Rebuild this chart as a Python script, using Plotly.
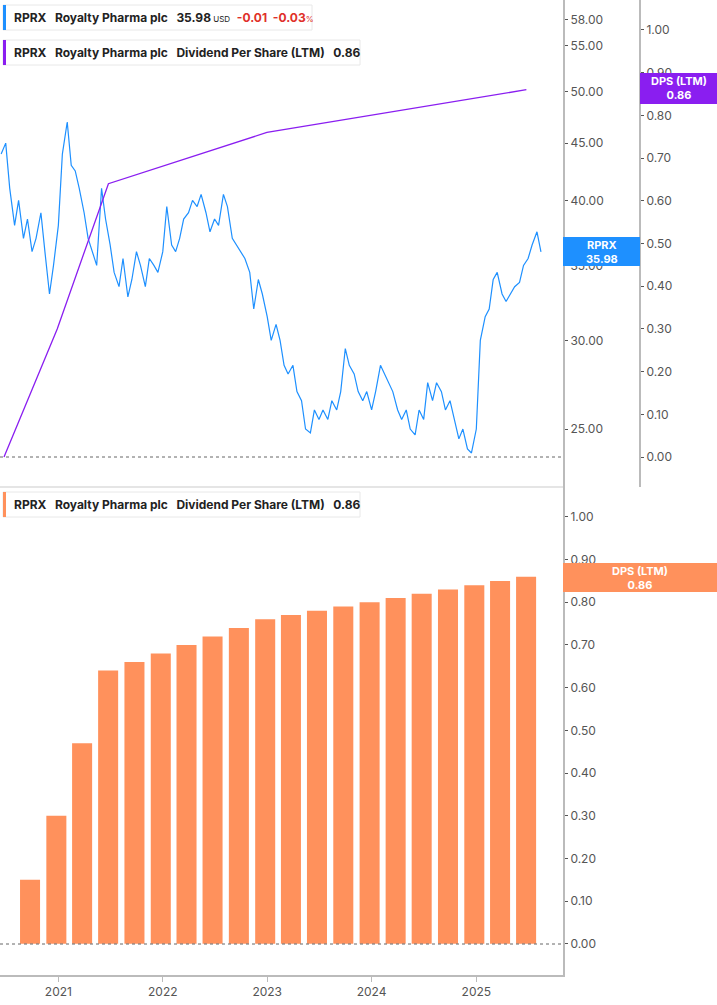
import pandas as pd
import plotly.graph_objects as go

# RPRX share price, semi-monthly readings
price_dates = pd.date_range("2020-06-15", "2025-08-15", freq="SMS")
price_values = [
    44, 45, 41, 38, 40, 37, 38.5, 36, 37, 39, 36, 33, 35,
    38, 44, 47, 43, 42.5, 41, 39, 37, 36, 35, 41, 38.5, 36.5, 34.5, 33.5, 35.5, 32.8, 34, 36, 35, 33.5, 35.5, 35, 34.5,
    36, 39.5, 36.5, 36, 37, 38.5, 39, 40, 39.5, 40.5, 39, 37.5, 38.5, 38, 40.5, 39.5, 37, 36.5, 36, 35.5, 34.5, 32, 34, 33,
    31.5, 30, 31, 30, 28.5, 28, 28.5, 27, 26.5, 25, 24.8, 26, 25.5, 26, 25.5, 26.5, 26, 27, 29.5, 28.5, 28, 27, 26.5, 27,
    26, 27, 28.5, 28, 27.5, 27, 26, 25.5, 26, 25, 24.7, 26, 25.5, 27.5, 26.5, 27.5, 27, 26, 26.5, 25.5, 24.5, 25, 24, 23.8,
    25, 30, 31.5, 32, 34, 34.5, 33, 32.5, 33, 33.5, 33.8, 35, 35.5, 36.5, 37.5, 35.98,
]

# Dividend per share (LTM), quarterly
dps_dates = pd.date_range("2020-09-30", periods=20, freq="QE") - pd.Timedelta(days=6)
dps_values = [0.15, 0.30, 0.47, 0.64, 0.66, 0.68, 0.70, 0.72, 0.74, 0.76,
              0.77, 0.78, 0.79, 0.80, 0.81, 0.82, 0.83, 0.84, 0.85, 0.86]

# DPS line as drawn in the upper panel
dps_line_dates = ["2020-06-25", "2020-12-28", "2021-06-25", "2022-12-31", "2025-06-25"]
dps_line_values = [0.0, 0.30, 0.64, 0.76, 0.86]

blue = "#1e90ff"
purple = "#8a1ef0"
orange = "#ff915c"
grey = "#555"
font = "Inter"

W, H = 717, 1005
px = lambda x: x / W
py = lambda y: 1 - y / H

fig = go.Figure()
fig.add_trace(go.Scatter(x=price_dates, y=price_values, mode="lines",
                         line=dict(color=blue, width=1.2), xaxis="x", yaxis="y"))
fig.add_trace(go.Scatter(x=dps_line_dates, y=dps_line_values, mode="lines",
                         line=dict(color=purple, width=1.3), xaxis="x", yaxis="y2"))
fig.add_trace(go.Bar(x=dps_dates, y=dps_values, marker=dict(color=orange, line=dict(width=0)),
                     width=1000 * 3600 * 24 * 70, xaxis="x2", yaxis="y3"))

xr = ["2020-06-11", "2025-10-31"]
tick = dict(ticks="outside", ticklen=3, tickcolor=grey, showgrid=False, zeroline=False,
            automargin=False,
            tickfont=dict(family=font, size=12, color=grey), tickformat=".2f")

fig.update_layout(
    width=W, height=H, margin=dict(l=0, r=0, t=0, b=0, autoexpand=False),
    plot_bgcolor="white", paper_bgcolor="white", showlegend=False,
    font=dict(family=font),
    xaxis=dict(domain=[0, px(563)], range=xr, anchor="y", showticklabels=False,
               showgrid=False, zeroline=False, automargin=False),
    xaxis2=dict(domain=[0, px(563)], range=xr, anchor="y3", showgrid=False, zeroline=False,
                automargin=False,
                showline=True, linecolor="#bbb", linewidth=2, ticks="outside", ticklen=5,
                tickcolor="#bbb", dtick="M12", tickformat="%Y",
                tickfont=dict(family=font, size=12, color=grey)),
    yaxis=dict(domain=[py(487), 1], type="log", range=[1.3462, 1.7810], side="right",
               anchor="x", showline=True, linecolor="#bbb", linewidth=2,
               tickvals=[25, 30, 35, 40, 45, 50, 55, 58], **tick),
    yaxis2=dict(domain=[py(487), 1], range=[-0.070, 1.070], overlaying="y", side="right",
                anchor="free", position=px(640), showline=True, linecolor="#bbb", linewidth=2,
                dtick=0.1, **tick),
    yaxis3=dict(domain=[py(975), py(487)], range=[-0.073, 1.070], side="right", anchor="x2",
                showline=True, linecolor="#bbb", linewidth=2, dtick=0.1, **tick),
    bargap=0.2,
)

shapes = [
    # dotted zero lines
    dict(type="line", xref="paper", yref="paper", x0=0, x1=px(563), y0=py(457), y1=py(457),
         line=dict(color="#666", width=1, dash="dot")),
    dict(type="line", xref="paper", yref="paper", x0=0, x1=px(563), y0=py(944), y1=py(944),
         line=dict(color="#666", width=1, dash="dot")),
    # panel separator
    dict(type="line", xref="paper", yref="paper", x0=0, x1=px(563), y0=py(487), y1=py(487),
         line=dict(color="#ddd", width=1.5)),
]

# legend boxes
legend_boxes = [
    (5, 30, 312, blue),
    (40, 65, 360, purple),
    (492, 517, 360, orange),
]
for top, bot, right, col in legend_boxes:
    shapes.append(dict(type="rect", xref="paper", yref="paper", x0=px(3), x1=px(right),
                       y0=py(bot), y1=py(top), line=dict(color="#e8e8e8", width=1),
                       fillcolor="white"))
    shapes.append(dict(type="rect", xref="paper", yref="paper", x0=px(3), x1=px(6),
                       y0=py(bot), y1=py(top), line=dict(width=0), fillcolor=col))

# value tags on the axes
tags = [
    (563, 640, 237, 266, blue, "<b>RPRX<br>35.98</b>"),
    (640, 717, 73, 104, purple, "<b>DPS (LTM)<br>0.86</b>"),
    (563, 717, 563, 592, orange, "<b>DPS (LTM)<br>0.86</b>"),
]
annotations = []
for x0, x1, y0, y1, col, txt in tags:
    shapes.append(dict(type="rect", xref="paper", yref="paper", x0=px(x0), x1=px(x1),
                       y0=py(y1), y1=py(y0), line=dict(width=0), fillcolor=col))
    annotations.append(dict(xref="paper", yref="paper", x=px((x0 + x1) / 2), y=py((y0 + y1) / 2),
                            text=txt, showarrow=False,
                            font=dict(family=font, size=11, color="white"),
                            xanchor="center", yanchor="middle"))

sp = "&nbsp;&nbsp;&nbsp;"
legend_texts = [
    (17.5, f"<b>RPRX{sp}Royalty Pharma plc{sp}35.98</b><span style='font-size:8px'> USD</span>"
           f"&nbsp;&nbsp;<b><span style='color:#e0302a'>-0.01&nbsp;&nbsp;-0.03</span></b>"
           f"<span style='font-size:8px;color:#e0302a'>%</span>"),
    (52.5, f"<b>RPRX{sp}Royalty Pharma plc{sp}Dividend Per Share (LTM){sp}0.86</b>"),
    (504.5, f"<b>RPRX{sp}Royalty Pharma plc{sp}Dividend Per Share (LTM){sp}0.86</b>"),
]
for y, txt in legend_texts:
    annotations.append(dict(xref="paper", yref="paper", x=px(12), y=py(y), text=txt,
                            showarrow=False, xanchor="left", yanchor="middle",
                            font=dict(family=font, size=12, color="#222")))

fig.update_layout(shapes=shapes, annotations=annotations)

# drop the browser's default page margin so the figure sits at the top-left corner
fig.write_html("out.html", config={"displayModeBar": False},
               post_script="document.body.style.margin='0';")
